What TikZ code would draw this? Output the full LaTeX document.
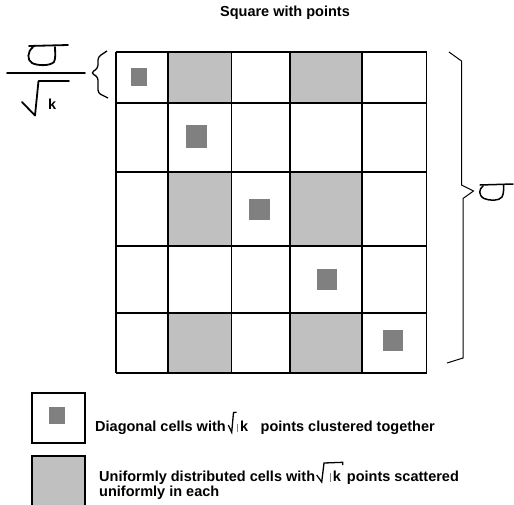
\documentclass[tikz,border=0pt]{standalone}
\usepackage{fontspec}
\setmainfont{Liberation Sans}
\begin{document}
\begin{tikzpicture}[x=1pt,y=-1pt,
  grid/.style={line width=1.8pt,line join=miter},
  shade/.style={fill=shadegray},
  dot/.style={fill=dotgray},
  txt/.style={inner sep=0pt,anchor=base west,font=\fontsize{14.5}{16}\selectfont\bfseries},
  hand/.style={line width=1.8pt,line cap=round,line join=round},
  thin/.style={line width=1pt,line join=miter}]
\definecolor{shadegray}{RGB}{192,192,192}
\definecolor{dotgray}{RGB}{128,128,128}
\useasboundingbox (0,0) rectangle (514,504);
% shaded cells
\def\Xa{116}\def\Xb{167.7}\def\Xc{231.5}\def\Xd{290}\def\Xe{362.3}\def\Xf{426.5}
\def\Ya{52}\def\Yb{102.7}\def\Yc{172.3}\def\Yd{246}\def\Ye{312.7}\def\Yf{372.7}
\foreach \ya/\yb in {\Ya/\Yb,\Yc/\Yd,\Ye/\Yf}{
  \fill[shade] (\Xb,\ya) rectangle (\Xc,\yb);
  \fill[shade] (\Xd,\ya) rectangle (\Xe,\yb);
}
% grid
\foreach \x in {\Xa,\Xb,\Xc,\Xd,\Xe,\Xf} \draw[grid] (\x,\Ya) -- (\x,\Yf);
\foreach \y in {\Ya,\Yb,\Yc,\Yd,\Ye,\Yf} \draw[grid] (\Xa,\y) -- (\Xf,\y);
% dark squares
\fill[dot] (131,68.3) rectangle (146.7,85.7);
\fill[dot] (186,125) rectangle (206.7,147.7);
\fill[dot] (249,199) rectangle (270,220);
\fill[dot] (316.7,269) rectangle (336.7,290);
\fill[dot] (382.7,330) rectangle (402.7,351);
% title
\node[txt,anchor=base] (title) at (285,16) {Square with points};
% left fraction sigma/sqrt k
\draw[hand] (29,46) -- (68,45);
\draw[hand] (33,47) .. controls (27,52) and (27,60) .. (32,63)
  .. controls (38,66) and (50,66) .. (54,62) .. controls (56,58) and (55,52) .. (55,47);
\draw[hand] (7,73) -- (85,73);
\draw[hand] (22,102) -- (35,115.5) -- (38.5,81) -- (69,81);
\node[txt] (kleft) at (48,109) {k};
% left brace
\draw[line width=1.3pt,rounded corners=3pt] (107,51) -- (98,57) -- (98,68) -- (91,73) -- (98,77) -- (98,93) -- (108,98);
% right brace
\draw[thin] (449,52) -- (461.5,61) -- (461.5,185) -- (473.5,191) -- (463,198.5) -- (463,358) -- (447,363);
% right sigma
\draw[hand,line width=1.5pt] (480,185) -- (513,184);
\draw[hand,line width=1.5pt] (483,186) .. controls (479,189) and (478,195) .. (484,198.5)
  .. controls (490,201) and (499,201) .. (502,197) .. controls (504,193) and (503.5,189) .. (503.5,185);
% legend boxes
\draw[grid] (31.7,392.7) rectangle (85,442.7);
\fill[dot] (49.3,407.3) rectangle (65,424.3);
\draw[grid,fill=shadegray] (31.7,456) rectangle (85,510);
% legend line 1
\node[txt] (l1a) at (95,431.7) {Diagonal cells with};
\draw[line width=1.3pt,line join=miter] (228.3,425) -- (231.7,432.3) -- (233.5,412.5) -- (236.5,412.2);
\draw[line width=0.6pt,dotgray] (237.6,424) -- (237.6,431.7);
\node[txt] (l1k) at (240,431.7) {k};
\node[txt] (l1b) at (260.5,431.7) {points clustered together};
% legend line 2
\node[txt] (l2a) at (99,481.7) {Uniformly distributed cells with};
\draw[line width=1.3pt,line join=miter] (316.7,475) -- (321.7,482) -- (324,463) -- (342.7,462.3) -- (342.7,465);
\draw[line width=0.6pt,dotgray] (330.7,473) -- (330.7,481.7);
\node[txt] (l2k) at (332.7,481.7) {k};
\node[txt] (l2b) at (346.7,481.7) {points scattered};
\node[txt] (l3) at (99,496.7) {uniformly in each};
\end{tikzpicture}
\end{document}
